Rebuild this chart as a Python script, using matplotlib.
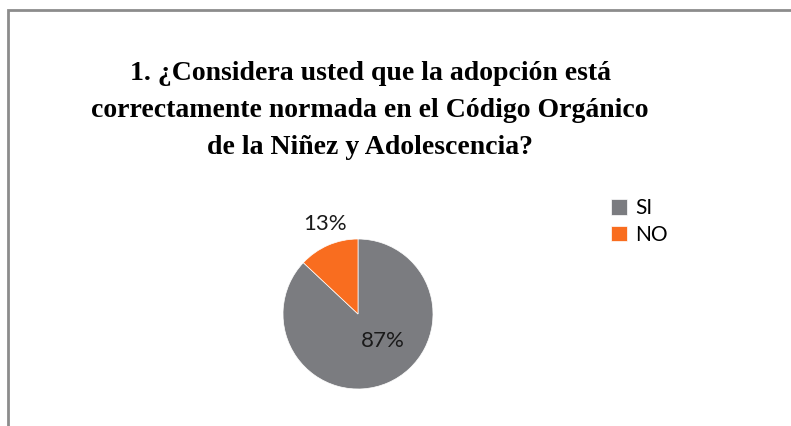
import matplotlib
matplotlib.use("Agg")
import matplotlib.pyplot as plt
from matplotlib.patches import Rectangle

# data
labels = ["SI", "NO"]
values = [87, 13]
colors = ["#7B7C80", "#F96D1F"]
title = ("1. ¿Considera usted que la adopción está\n"
         "correctamente normada en el Código Orgánico\n"
         "de la Niñez y Adolescencia?")

fig = plt.figure(figsize=(7.91, 4.26), dpi=100)
W, H = 791, 426

# outer chart border (cut off at right and bottom like the source)
fig.patches.append(Rectangle((8 / W, -0.1), 1.2, (H - 10) / H + 0.1,
                             transform=fig.transFigure, fill=False,
                             edgecolor="#8C8C8C", linewidth=2))

fig.text(370 / W, 1 - 61 / H, title, ha="center", va="top",
         family="Liberation Serif", fontweight="bold", fontsize=20,
         linespacing=1.62)

# pie
cx, cy, r = 358, 314, 75
ax = fig.add_axes([(cx - r) / W, (H - cy - r) / H, 2 * r / W, 2 * r / H])
wedges, _ = ax.pie(values, colors=colors, startangle=90, counterclock=False,
                   radius=1, wedgeprops=dict(linewidth=0.5, edgecolor="white"))
ax.set_xlim(-1, 1)
ax.set_ylim(-1, 1)
ax.set_aspect("equal")
ax.axis("off")

# data labels placed like Excel's best fit
pos = [(0.33, -0.36), (-0.44, 1.20)]
for v, (x, y) in zip(values, pos):
    ax.text(x, y, f"{v}%", ha="center", va="center", fontsize=16,
            family="Lato", color="#1a1a1a", clip_on=False)

fig.legend(wedges, labels, loc="upper left",
           bbox_to_anchor=(603 / W, 1 - 190 / H), frameon=False,
           prop=dict(family="Lato", size=15), handlelength=0.75,
           handleheight=0.75, handletextpad=0.4, labelspacing=0.3,
           borderaxespad=0)

fig.savefig("out.png", dpi=100)
